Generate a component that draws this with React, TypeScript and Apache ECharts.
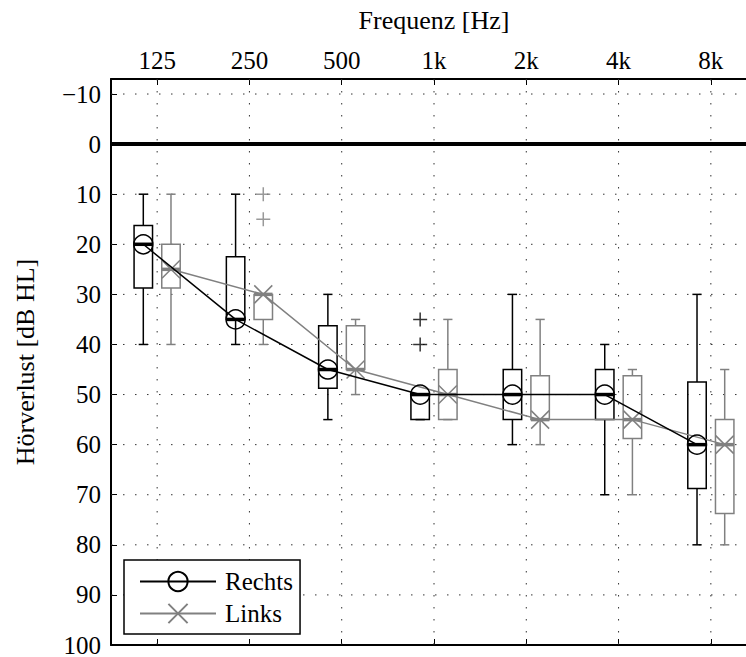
import React, { useEffect, useRef } from "react";
import * as echarts from "echarts";

const freqLabels = ["125", "250", "500", "1k", "2k", "4k", "8k"];
const xPos = [0, 1, 2, 3, 4, 5, 6];
const yTicks = [-10, 0, 10, 20, 30, 40, 50, 60, 70, 80, 90, 100];

// Rechts (right ear) box statistics [dB HL]
const rechtsMin = [10, 10, 30, 50, 30, 40, 30];
const rechtsQ1 = [16.25, 22.5, 36.25, 50, 45, 45, 47.5];
const rechtsMed = [20, 35, 45, 50, 50, 50, 60];
const rechtsQ3 = [28.75, 35, 48.75, 55, 55, 55, 68.75];
const rechtsMax = [40, 40, 55, 55, 60, 70, 80];
const rechtsOutliers = [[3, 35], [3, 40]];

// Links (left ear) box statistics [dB HL]
const linksMin = [10, 30, 35, 35, 35, 45, 45];
const linksQ1 = [20, 30, 36.25, 45, 46.25, 46.25, 55];
const linksMed = [25, 30, 45, 50, 55, 55, 60];
const linksQ3 = [28.75, 35, 45, 55, 55, 58.75, 73.75];
const linksMax = [40, 40, 50, 55, 60, 70, 80];
const linksOutliers = [[1, 10], [1, 15]];

const OFF = 0.15;
const FONT = "'Liberation Serif', 'Times New Roman', Times, serif";
const BLACK = "#000000";
const GRAY = "#808080";
const X_SYMBOL = "path://M0,0L10,10M10,0L0,10";
const PLUS_SYMBOL = "path://M5,0L5,10M0,5L10,5";

function boxSeries(name: string, color: string, off: number, mins: number[], q1s: number[], meds: number[], q3s: number[], maxs: number[]) {
  return {
    name,
    type: "custom",
    xAxisIndex: 0,
    yAxisIndex: 0,
    z: 3,
    silent: true,
    data: xPos.map((x, i) => [x + off, mins[i], q1s[i], meds[i], q3s[i], maxs[i]]),
    encode: { x: 0, y: [1, 2, 3, 4, 5] },
    renderItem: (params: any, api: any) => {
      const x = api.value(0);
      const hw = api.size([0.1, 0])[0];
      const cw = api.size([0.05, 0])[0];
      const P = (v: number) => api.coord([x, v]);
      const pMin = P(api.value(1));
      const pQ1 = P(api.value(2));
      const pMed = P(api.value(3));
      const pQ3 = P(api.value(4));
      const pMax = P(api.value(5));
      const cx = pMin[0];
      const ls = { stroke: color, lineWidth: 1.5, fill: "none" };
      return {
        type: "group",
        children: [
          { type: "line", shape: { x1: cx, y1: pMin[1], x2: cx, y2: pQ1[1] }, style: ls },
          { type: "line", shape: { x1: cx, y1: pQ3[1], x2: cx, y2: pMax[1] }, style: ls },
          { type: "line", shape: { x1: cx - cw, y1: pMin[1], x2: cx + cw, y2: pMin[1] }, style: ls },
          { type: "line", shape: { x1: cx - cw, y1: pMax[1], x2: cx + cw, y2: pMax[1] }, style: ls },
          {
            type: "rect",
            shape: { x: cx - hw, y: Math.min(pQ1[1], pQ3[1]), width: 2 * hw, height: Math.abs(pQ3[1] - pQ1[1]) },
            style: ls,
          },
          { type: "line", shape: { x1: cx - hw, y1: pMed[1], x2: cx + hw, y2: pMed[1] }, style: { stroke: color, lineWidth: 3.5 } },
        ],
      };
    },
  };
}

export default function App() {
  const ref = useRef<HTMLDivElement>(null);

  useEffect(() => {
    if (!ref.current) return;
    const chart = echarts.init(ref.current, null, { renderer: "svg" });
    const xMin = -0.5;
    const xMax = 6.5;
    const yMin = -13;
    const yMax = 100;

    const option: any = {
      animation: false,
      backgroundColor: "#ffffff",
      textStyle: { fontFamily: FONT },
      grid: { left: 111, top: 79, width: 646, height: 566, outerBoundsMode: "none", containLabel: false },
      legend: {
        data: ["Rechts", "Links"],
        orient: "vertical",
        left: 124,
        top: 560,
        backgroundColor: "#ffffff",
        borderColor: BLACK,
        borderWidth: 1.5,
        borderRadius: 0,
        padding: [9, 7, 8, 15],
        itemGap: 7,
        itemWidth: 76,
        itemHeight: 24,
        selectedMode: false,
        textStyle: { fontFamily: FONT, fontSize: 25, color: BLACK, padding: [0, 0, 0, 4] },
        z: 10,
      },
      xAxis: [
        {
          type: "value",
          position: "top",
          min: xMin,
          max: xMax,
          name: "Frequenz [Hz]",
          nameLocation: "middle",
          nameGap: 46,
          nameTextStyle: { fontFamily: FONT, fontSize: 26, color: BLACK },
          axisLine: { show: true, onZero: false, lineStyle: { color: BLACK, width: 2 } },
          axisTick: { show: true, inside: true, length: 6, customValues: xPos, lineStyle: { color: BLACK, width: 1 } },
          axisLabel: {
            show: true,
            customValues: xPos,
            margin: 6,
            fontFamily: FONT,
            fontSize: 25,
            color: BLACK,
            formatter: (v: number) => freqLabels[Math.round(v)] ?? "",
          },
          splitLine: { show: false },
        },
        {
          type: "value",
          position: "bottom",
          min: xMin,
          max: xMax,
          axisLine: { show: true, onZero: false, lineStyle: { color: BLACK, width: 2 } },
          axisTick: { show: true, inside: true, length: 6, customValues: xPos, lineStyle: { color: BLACK, width: 1 } },
          axisLabel: { show: false },
          splitLine: { show: false },
        },
      ],
      yAxis: {
        type: "value",
        inverse: true,
        min: yMin,
        max: yMax,
        name: "Hörverlust [dB HL]",
        nameLocation: "middle",
        nameGap: 73,
        nameRotate: 90,
        nameTextStyle: { fontFamily: FONT, fontSize: 26, color: BLACK },
        axisLine: { show: true, onZero: false, lineStyle: { color: BLACK, width: 2 } },
        axisTick: { show: true, inside: true, length: 6, customValues: yTicks, lineStyle: { color: BLACK, width: 1 } },
        axisLabel: {
          show: true,
          customValues: yTicks,
          margin: 10,
          fontFamily: FONT,
          fontSize: 25,
          color: BLACK,
          formatter: (v: number) => (v < 0 ? "\u2212" + Math.abs(v) : String(v)),
        },
        splitLine: { show: false },
      },
      series: [
        {
          name: "gridV",
          type: "custom",
          z: 1,
          silent: true,
          data: xPos.map((x) => [x]),
          encode: { x: 0 },
          renderItem: (params: any, api: any) => {
            const a = api.coord([api.value(0), yMin]);
            const b = api.coord([api.value(0), yMax]);
            return {
              type: "line",
              shape: { x1: a[0], y1: a[1], x2: b[0], y2: b[1] },
              style: { stroke: "#333333", lineWidth: 1, lineDash: [1.5, 10.5] },
            };
          },
        },
        {
          name: "gridH",
          type: "custom",
          z: 1,
          silent: true,
          data: yTicks.filter((v) => v !== 0 && v !== yMax).map((v) => [v]),
          encode: { y: 0 },
          renderItem: (params: any, api: any) => {
            const a = api.coord([xMin, api.value(0)]);
            const b = api.coord([xMax, api.value(0)]);
            return {
              type: "line",
              shape: { x1: a[0], y1: a[1], x2: b[0], y2: b[1] },
              style: { stroke: "#333333", lineWidth: 1, lineDash: [1.5, 10.5] },
            };
          },
        },
        {
          name: "zeroLine",
          type: "custom",
          z: 2,
          silent: true,
          data: [[0]],
          encode: { y: 0 },
          renderItem: (params: any, api: any) => {
            const a = api.coord([xMin, 0]);
            const b = api.coord([xMax, 0]);
            return {
              type: "line",
              shape: { x1: a[0], y1: a[1], x2: b[0], y2: b[1] },
              style: { stroke: BLACK, lineWidth: 4 },
            };
          },
        },
        boxSeries("boxLinks", GRAY, OFF, linksMin, linksQ1, linksMed, linksQ3, linksMax),
        boxSeries("boxRechts", BLACK, -OFF, rechtsMin, rechtsQ1, rechtsMed, rechtsQ3, rechtsMax),
        {
          name: "outLinks",
          type: "scatter",
          z: 4,
          silent: true,
          symbol: PLUS_SYMBOL,
          symbolSize: 14,
          data: linksOutliers.map(([i, v]) => [i + OFF, v]),
          itemStyle: { color: "none", borderColor: GRAY, borderWidth: 1.5 },
        },
        {
          name: "outRechts",
          type: "scatter",
          z: 4,
          silent: true,
          symbol: PLUS_SYMBOL,
          symbolSize: 14,
          data: rechtsOutliers.map(([i, v]) => [i - OFF, v]),
          itemStyle: { color: "none", borderColor: BLACK, borderWidth: 1.5 },
        },
        {
          name: "Links",
          type: "line",
          z: 5,
          silent: true,
          symbol: X_SYMBOL,
          symbolSize: 18,
          data: xPos.map((x, i) => [x + OFF, linksMed[i]]),
          lineStyle: { color: GRAY, width: 1.5 },
          itemStyle: { color: "none", borderColor: GRAY, borderWidth: 1.5 },
        },
        {
          name: "Rechts",
          type: "line",
          z: 6,
          silent: true,
          symbol: "circle",
          symbolSize: 19,
          data: xPos.map((x, i) => [x - OFF, rechtsMed[i]]),
          lineStyle: { color: BLACK, width: 1.5 },
          itemStyle: { color: "transparent", borderColor: BLACK, borderWidth: 1.5 },
        },
      ],
    };

    chart.setOption(option);
    return () => chart.dispose();
  }, []);

  return (
    <div
      ref={ref}
      style={{ position: "absolute", left: 0, top: 0, width: 746, height: 657, overflow: "hidden" }}
    />
  );
}
